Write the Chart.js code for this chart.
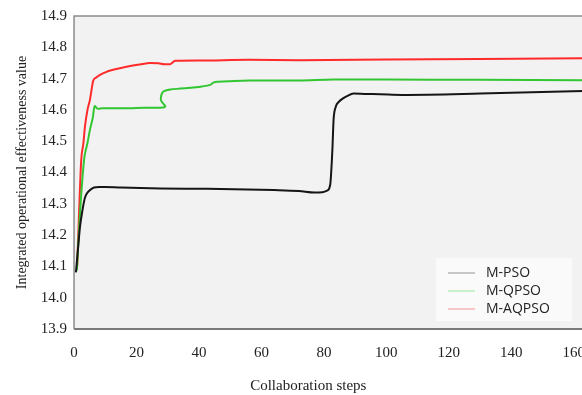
<!DOCTYPE html>
<html>
<head>
<meta charset="utf-8">
<script src="https://cdn.jsdelivr.net/npm/chart.js@4/dist/chart.umd.min.js"></script>
<style>
  html, body { margin: 0; padding: 0; background: #fff; overflow: hidden; }
  #wrap { width: 620px; height: 395px; }
</style>
</head>
<body>
<div id="wrap"><canvas id="chart"></canvas></div>
<script>
// series
var labels = ["M-PSO", "M-QPSO", "M-AQPSO"];

var psoSteps  = [0.6, 1.3, 1.9, 2.7, 3.5, 4.5, 5.5, 6.4, 8, 9.6, 15, 27.6, 42.6, 64, 72, 77, 79.5, 81, 82, 82.7, 83.1, 83.8, 84.7, 86, 87.4, 89.5, 93, 98, 105, 130, 163, 170];
var psoValues = [14.081, 14.16, 14.226, 14.28, 14.32, 14.338, 14.347, 14.352, 14.354, 14.354, 14.352, 14.349, 14.348, 14.344, 14.341, 14.336, 14.337, 14.342, 14.36, 14.47, 14.569, 14.61, 14.625, 14.636, 14.644, 14.652, 14.651, 14.65, 14.648, 14.652, 14.66, 14.662];

var qpsoSteps  = [0.9, 1.5, 2.3, 3.2, 3.6, 4.3, 5.1, 6.0, 6.6, 7.5, 9, 15, 20, 25, 28.5, 29.2, 28.4, 27.8, 28.1, 28.8, 30.8, 34, 37.2, 41, 43.6, 44.6, 46, 56.4, 72, 83, 100, 130, 163, 170];
var qpsoValues = [14.088, 14.2, 14.33, 14.44, 14.465, 14.494, 14.537, 14.575, 14.612, 14.604, 14.605, 14.605, 14.606, 14.607, 14.608, 14.612, 14.622, 14.632, 14.652, 14.66, 14.665, 14.668, 14.671, 14.675, 14.68, 14.687, 14.69, 14.694, 14.694, 14.697, 14.697, 14.696, 14.695, 14.695];

var aqpsoSteps  = [1, 1.6, 2.3, 3.0, 3.5, 4.3, 5.1, 5.7, 6.1, 7, 8.3, 10, 12.5, 15, 18, 21, 24.4, 27, 29, 30.8, 31.6, 32.4, 40, 56, 72, 100, 130, 163, 170];
var aqpsoValues = [14.1, 14.27, 14.44, 14.494, 14.547, 14.6, 14.633, 14.67, 14.692, 14.703, 14.712, 14.72, 14.728, 14.734, 14.74, 14.745, 14.75, 14.749, 14.746, 14.746, 14.752, 14.757, 14.758, 14.76, 14.759, 14.761, 14.763, 14.765, 14.766];

var xTicks = [0, 20, 40, 60, 80, 100, 120, 140, 160];
var yMin = 13.9, yMax = 14.9;

function pts(xs, ys) {
  return xs.map(function(x, i) { return {x: x, y: ys[i]}; });
}

var serif = "'Liberation Serif', 'Times New Roman', serif";

// grey plot panel + frame, x title and the legend box
var panel = {
  id: 'panel',
  beforeDatasetsDraw: function(chart) {
    var a = chart.chartArea, ctx = chart.ctx;
    ctx.save();
    ctx.fillStyle = '#f2f2f2';
    ctx.fillRect(a.left, a.top, a.right - a.left, a.bottom - a.top);
    ctx.strokeStyle = '#8c8c8c';
    ctx.lineWidth = 1.5;
    ctx.beginPath();
    ctx.moveTo(a.right, a.top);
    ctx.lineTo(a.left, a.top);
    ctx.lineTo(a.left, a.bottom);
    ctx.stroke();
    ctx.strokeStyle = '#7a7a7a';
    ctx.lineWidth = 2;
    ctx.beginPath();
    ctx.moveTo(a.left, a.bottom);
    ctx.lineTo(a.right, a.bottom);
    ctx.stroke();
    ctx.restore();
  },
  afterDraw: function(chart) {
    var ctx = chart.ctx, a = chart.chartArea, xs = chart.scales.x;
    ctx.save();
    ctx.font = "15px " + serif;
    ctx.fillStyle = '#222';
    ctx.textAlign = 'center';
    ctx.textBaseline = 'middle';
    ctx.fillText('Collaboration steps', xs.getPixelForValue(75), a.bottom + 57);

    var bx = 436, by = a.bottom - 71, bw = 136, bh = 63;
    ctx.fillStyle = '#fafafa';
    ctx.fillRect(bx, by, bw, bh);
    var pale = ['#b4b4b4', '#b8ecb8', '#f6b6b6'];
    ctx.font = "14px 'Open Sans', sans-serif";
    ctx.textAlign = 'left';
    for (var i = 0; i < labels.length; i++) {
      var yy = by + 15 + i * 18;
      ctx.strokeStyle = pale[i];
      ctx.lineWidth = 1.5;
      ctx.beginPath();
      ctx.moveTo(bx + 12, yy);
      ctx.lineTo(bx + 39, yy);
      ctx.stroke();
      ctx.fillStyle = '#222';
      ctx.fillText(labels[i], bx + 50, yy);
    }
    ctx.restore();
  }
};

new Chart(document.getElementById('chart'), {
  type: 'line',
  data: {
    datasets: [
      {label: labels[0], data: pts(psoSteps, psoValues), borderColor: '#151515', borderWidth: 2, cubicInterpolationMode: 'monotone'},
      {label: labels[1], data: pts(qpsoSteps, qpsoValues), borderColor: '#33c633', borderWidth: 2, tension: 0.3},
      {label: labels[2], data: pts(aqpsoSteps, aqpsoValues), borderColor: '#ff2a2a', borderWidth: 2, cubicInterpolationMode: 'monotone'}
    ]
  },
  options: {
    responsive: true,
    maintainAspectRatio: false,
    animation: false,
    layout: {padding: {left: 10, right: 15, top: 10, bottom: 18}},
    elements: {point: {radius: 0}},
    plugins: {legend: {display: false}, tooltip: {enabled: false}},
    scales: {
      x: {
        type: 'linear',
        min: 0,
        max: 170,
        grid: {display: false, drawTicks: false},
        border: {display: false},
        afterBuildTicks: function(scale) {
          scale.ticks = xTicks.map(function(v) { return {value: v}; });
        },
        ticks: {color: '#222', font: {family: serif, size: 15}, padding: 15, maxRotation: 0}
      },
      y: {
        min: yMin,
        max: yMax,
        grid: {display: false, drawTicks: false},
        border: {display: false},
        ticks: {
          stepSize: 0.1,
          color: '#222',
          font: {family: serif, size: 15},
          padding: 7,
          callback: function(v) { return v.toFixed(1); }
        },
        title: {
          display: true,
          text: 'Integrated operational effectiveness value',
          color: '#222',
          font: {family: serif, size: 14},
          padding: {top: 4, bottom: 3}
        }
      }
    }
  },
  plugins: [panel]
});
</script>
</body>
</html>
